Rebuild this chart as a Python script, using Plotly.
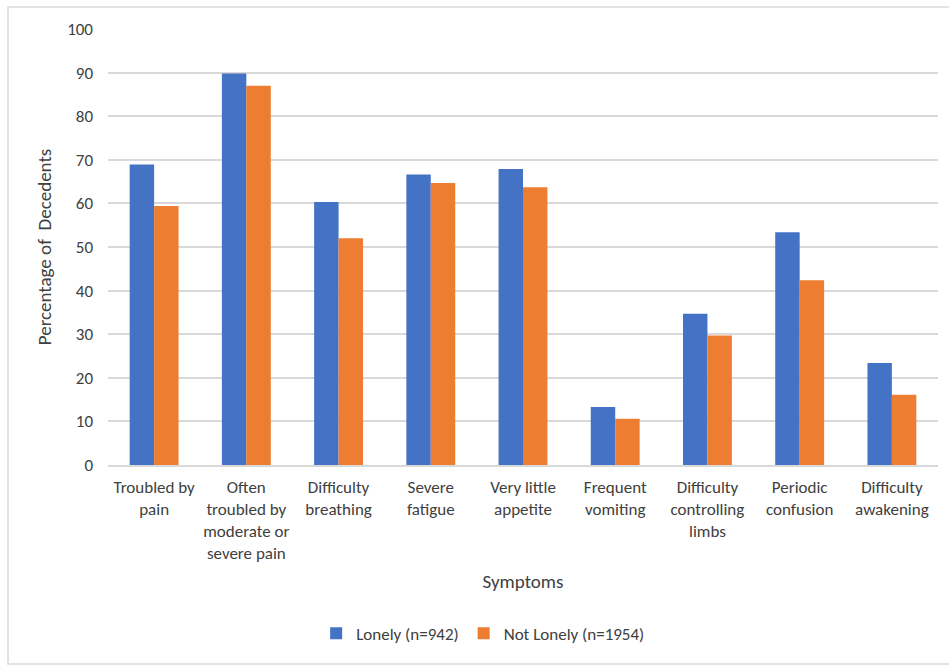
import plotly.graph_objects as go

categories = [
    "Troubled by<br>pain",
    "Often<br>troubled by<br>moderate or<br>severe pain",
    "Difficulty<br>breathing",
    "Severe<br>fatigue",
    "Very little<br>appetite",
    "Frequent<br>vomiting",
    "Difficulty<br>controlling<br>limbs",
    "Periodic<br>confusion",
    "Difficulty<br>awakening",
]
lonely = [68.9, 89.8, 60.3, 66.6, 67.9, 13.3, 34.7, 53.4, 23.4]
not_lonely = [59.4, 87.0, 52.0, 64.7, 63.7, 10.6, 29.7, 42.4, 16.1]
y_ticks = [0, 10, 20, 30, 40, 50, 60, 70, 80, 90, 100]

FONT = "Carlito, Calibri, 'Liberation Sans Narrow', 'Open Sans', sans-serif"
TXT = "#404040"

W, H = 949, 665
L, R, T, B = 108, 11, 29, 200
pw, ph = W - L - R, H - T - B

fig = go.Figure()
fig.add_trace(go.Bar(name="Lonely (n=942)", x=categories, y=lonely,
                     marker=dict(color="#4472C4", line=dict(width=0))))
fig.add_trace(go.Bar(name="Not Lonely (n=1954)", x=categories, y=not_lonely,
                     marker=dict(color="#ED7D31", line=dict(width=0))))

# outer chart border
fig.add_shape(type="rect", xref="paper", yref="paper",
              x0=(8 - L) / pw, x1=(W + 2 - L) / pw,
              y0=-(664 - (H - B)) / ph, y1=1 + (T - 7) / ph,
              line=dict(color="#d9d9d9", width=1.5), layer="below")

fig.update_layout(
    width=W, height=H,
    margin=dict(l=L, r=R, t=T, b=B),
    paper_bgcolor="white", plot_bgcolor="white",
    barmode="group", bargap=0.47, bargroupgap=0,
    font=dict(family=FONT, color=TXT, size=17),
    showlegend=True,
    legend=dict(orientation="h", x=0.452, xanchor="center", y=-0.387,
                yanchor="middle", font=dict(size=17, color=TXT),
                itemwidth=30, traceorder="normal"),
    xaxis=dict(
        title=dict(text="Symptoms", font=dict(size=19, color=TXT), standoff=11),
        tickfont=dict(size=17, color=TXT),
        showgrid=False, showline=True, linecolor="#d9d9d9", linewidth=1.5,
        ticks="", ticklabelstandoff=6, automargin=False,
    ),
    yaxis=dict(
        title=dict(text="Percentage of  Decedents", font=dict(size=19, color=TXT), standoff=10),
        range=[0, 100], tickvals=y_ticks, ticktext=[str(v) for v in y_ticks],
        tickfont=dict(size=17, color=TXT),
        showgrid=True, gridcolor="#d9d9d9", gridwidth=1.5,
        zeroline=False, showline=False, ticks="",
        ticklabelstandoff=14, automargin=False,
    ),
)

fig.write_html("out.html")
